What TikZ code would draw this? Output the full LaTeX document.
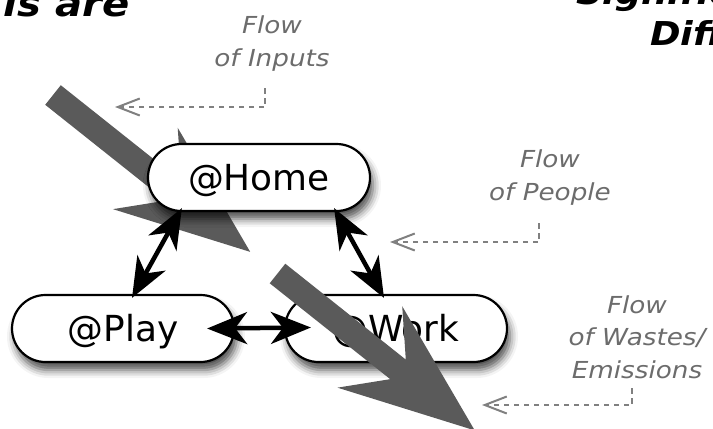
\documentclass[tikz,border=0pt]{standalone}
\usepackage{fontspec}
\setmainfont{DejaVu Sans}
\newfontfamily\lblfont[FakeStretch=1.12]{DejaVu Sans}
\usetikzlibrary{arrows.meta,calc,shadows.blur}

\definecolor{bigflow}{RGB}{90,90,90}
\definecolor{lbltext}{RGB}{108,108,108}
\definecolor{lblline}{RGB}{128,128,128}

\tikzset{
  flowarrow/.pic={
    \fill[bigflow] (0,-12.5) -- (154,-12.5) -- (118,-52) -- (252,0)
      -- (118,52) -- (154,12.5) -- (0,12.5) -- cycle;
  }
}

\begin{document}
\begin{tikzpicture}[x=1bp,y=-1bp,
  place/.style={draw=black, line width=2.2bp, fill=white,
    rounded corners=33.5bp, minimum width=222bp, minimum height=67bp,
    inner sep=0pt, font=\fontsize{36}{40}\selectfont,
    text height=26bp, text depth=0pt,
    blur shadow={shadow xshift=3bp, shadow yshift=-8bp,
      shadow blur radius=8bp, shadow opacity=70}},
  link/.style={line width=4.5bp,
    {Stealth[length=40bp,width=32bp,inset=12bp]}-{Stealth[length=40bp,width=32bp,inset=12bp]}},
  flowlabel/.style={align=center, text=lbltext, inner sep=0pt, anchor=base,
    font=\lblfont\itshape\fontsize{23.5}{32.5}\selectfont},
  pointer/.style={draw=lblline, line width=2bp, dash pattern=on 5.5bp off 4.5bp,
    -{Straight Barb[length=22bp,width=17bp,line width=2bp]}},
  headline/.style={inner sep=0pt, font=\lblfont\bfseries\itshape\fontsize{33}{38}\selectfont}
]
\useasboundingbox (0,0) rectangle (713,428);

% inputs stream, passing behind the home node
\pic[rotate=-38.5] at (53,95) {flowarrow};

% the three places
\node[place] (home) at (259,177.5) {@Home};
\node[place] (play) at (123,328.5) {@Play};
\node[place] (work) at (396,328.5) {@Work};

% movements of people between places
\draw[link] ($(home.south west)+(35,-4)$) -- ($(play.north)+(9,4)$);
\draw[link] ($(home.south east)+(-37,-4)$) -- ($(work.north)+(-12,4)$);
\draw[link] ($(play.east)+(-28,0)$) -- ($(work.west)+(27,-1)$);

% wastes stream, over the work node
\pic[rotate=-38.5] at (277.5,273.5) {flowarrow};

% captions (anchored at the baseline of their last line) with their pointers
\node[flowlabel] (lblIn) at (272,66) {Flow\\of Inputs};
\node[flowlabel] (lblPeople) at (550,200) {Flow\\of People};
\node[flowlabel] (lblWaste) at (637,378) {Flow\\of Wastes/\\Emissions};

\coordinate (inTop) at (265,88);
\coordinate (inEnd) at (115,107);
\coordinate (peTop) at (539,223);
\coordinate (peEnd) at (390,242);
\coordinate (waTop) at (632,388);
\coordinate (waEnd) at (482,405);
\draw[pointer] (inTop) |- (inEnd);
\draw[pointer] (peTop) |- (peEnd);
\draw[pointer] (waTop) |- (waEnd);

% heading fragments at the edges
\node[headline, anchor=base east, font=\lblfont\bfseries\itshape\fontsize{36}{40}\selectfont] (headA) at (130,16) {is are};
\node[headline, anchor=base west] (headB) at (576,4) {Signific};
\node[headline, anchor=base west] (headC) at (650,45) {Diff};
\end{tikzpicture}
\end{document}
